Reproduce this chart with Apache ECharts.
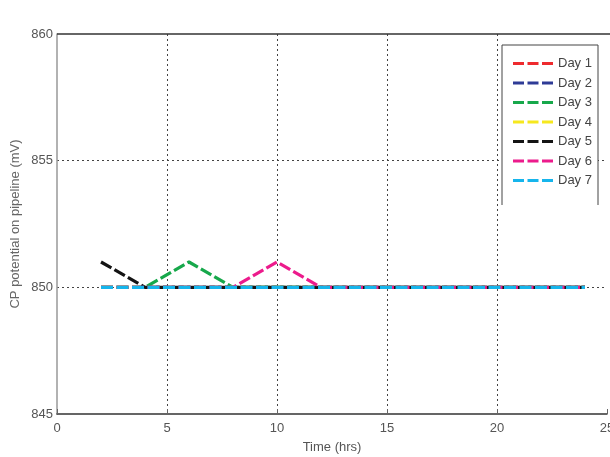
<!DOCTYPE html>
<html><head><meta charset="utf-8">
<script src="https://cdn.jsdelivr.net/npm/echarts@6/dist/echarts.min.js"></script>
<style>html,body{margin:0;padding:0;background:#fff}#c{width:610px;height:457px}</style>
</head><body><div id="c"></div>
<script>
const hours = [2, 4, 6, 8, 10, 12, 14, 16, 18, 20, 22, 24];
const day1 = [850, 850, 850, 850, 850, 850, 850, 850, 850, 850, 850, 850];
const day2 = [850, 850, 850, 850, 850, 850, 850, 850, 850, 850, 850, 850];
const day3 = [850, 850, 851, 850, 850, 850, 850, 850, 850, 850, 850, 850];
const day4 = [850, 850, 850, 850, 850, 850, 850, 850, 850, 850, 850, 850];
const day5 = [851, 850, 850, 850, 850, 850, 850, 850, 850, 850, 850, 850];
const day6 = [850, 850, 850, 850, 851, 850, 850, 850, 850, 850, 850, 850];
const day7 = [850, 850, 850, 850, 850, 850, 850, 850, 850, 850, 850, 850];
const names = ['Day 1', 'Day 2', 'Day 3', 'Day 4', 'Day 5', 'Day 6', 'Day 7'];
const values = [day1, day2, day3, day4, day5, day6, day7];
const colors = ['#ee2a2e', '#2e3b96', '#17a84b', '#f6e81e', '#141414', '#ec1b8c', '#16b5ec'];

const series = names.map((n, i) => ({
  name: n,
  type: 'line',
  data: hours.map((h, j) => [h, values[i][j]]),
  showSymbol: false,
  symbol: 'none',
  color: colors[i],
  lineStyle: { width: 3.2, type: [12, 3.5], color: colors[i] }
}));

const chart = echarts.init(document.getElementById('c'), null, { renderer: 'canvas' });
chart.setOption({
  animation: false,
  backgroundColor: '#fff',
  textStyle: { fontFamily: 'Liberation Sans, Arial, sans-serif' },
  grid: { left: 57, right: 3, top: 34, bottom: 43, show: false, outerBoundsMode: 'none', containLabel: false },
  xAxis: {
    type: 'value', min: 0, max: 25, interval: 5,
    name: 'Time (hrs)', nameLocation: 'middle', nameGap: 27,
    nameTextStyle: { color: '#555', fontSize: 13 },
    axisLine: { show: true, onZero: false, lineStyle: { color: '#333', width: 1.5 } },
    axisTick: { show: true, inside: true, length: 5, lineStyle: { color: '#666' } },
    axisLabel: { color: '#555', fontSize: 13, margin: 8 },
    splitLine: { show: true, showMinLine: false, showMaxLine: false, lineStyle: { color: '#444', type: [2, 3], width: 1 } }
  },
  yAxis: {
    type: 'value', min: 845, max: 860, interval: 5,
    name: 'CP potential on pipeline (mV)', nameLocation: 'middle', nameGap: 35,
    nameMoveOverlap: false,
    nameTextStyle: { color: '#666', fontSize: 13 },
    axisLine: { show: true, lineStyle: { color: '#999', width: 1.5 } },
    axisTick: { show: false },
    axisLabel: { color: '#555', fontSize: 13, margin: 4 },
    splitLine: { show: true, showMinLine: false, showMaxLine: false, lineStyle: { color: '#444', type: [2, 3], width: 1 } }
  },
  graphic: [
    { type: 'line', shape: { x1: 57, y1: 34, x2: 610, y2: 34 }, style: { stroke: '#333', lineWidth: 1.5 }, z: 10 },
    { type: 'rect', shape: { x: 502, y: 45, width: 96, height: 160 }, style: { fill: '#fff' }, z: 20 },
    { type: 'polyline', shape: { points: [[502, 205], [502, 45], [598, 45], [598, 205]] }, style: { stroke: '#444', lineWidth: 1, fill: null }, z: 21 }
  ],
  legend: {
    orient: 'vertical', left: 508, top: 52, z: 30,
    icon: 'path://M0,0h11v3h-11z M14.5,0h11v3h-11z M29,0h11v3h-11z',
    itemWidth: 40, itemHeight: 3, itemGap: 6.5,
    textStyle: { color: '#444', fontSize: 13 },
    data: names
  },
  series: series
});
</script></body></html>
